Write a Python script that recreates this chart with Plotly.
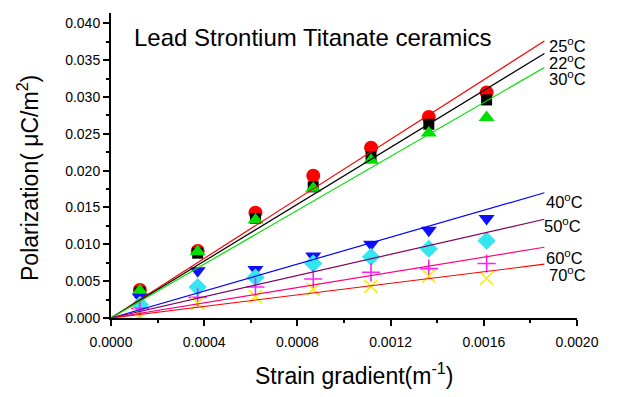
import plotly.graph_objects as go

# Strain gradient at which polarization was measured (m^-1)
strain = [0.000124, 0.000372, 0.000620, 0.000868, 0.001116, 0.001364, 0.001612]

temps = ["25", "22", "30", "40", "50", "60", "70"]

# Measured polarization (uC/m^2) per temperature
pol_25 = [0.0038, 0.0091, 0.0143, 0.0193, 0.0231, 0.0273, 0.0306]
pol_22 = [0.0035, 0.0088, 0.0135, 0.0178, 0.0219, 0.0263, 0.0296]
pol_30 = [0.0037, 0.0090, 0.0133, 0.0176, 0.0214, 0.0251, 0.0272]
pol_40 = [0.0028, 0.0064, 0.0066, 0.0084, 0.0100, 0.0119, 0.0135]
pol_50 = [0.0018, 0.0042, 0.0055, 0.0074, 0.0083, 0.0094, 0.0105]
pol_60 = [0.0013, 0.0028, 0.0042, 0.0053, 0.0062, 0.0067, 0.0074]
pol_70 = [0.0004, 0.0020, 0.0029, 0.0039, 0.0043, 0.0057, 0.0054]

# Linear fits through the origin: end point of each fitted line
fit_x_end = 0.00186
fit_y_end = [0.0376, 0.0359, 0.0340, 0.0170, 0.0134, 0.0096, 0.0073]

# Label placement (y of each temperature label)
label_y = [0.0371, 0.0348, 0.0326, 0.0159, 0.0126, 0.0083, 0.0060]
label_x = [0.001872, 0.001872, 0.001872, 0.00186, 0.00185, 0.00186, 0.001872]

series = [pol_25, pol_22, pol_30, pol_40, pol_50, pol_60, pol_70]
marker_colors = ["#ff0000", "#000000", "#00e000", "#1010ff", "#33e6f0", "#ff20ff", "#f0f000"]
line_colors = ["#ff0000", "#000000", "#00e000", "#0000ff", "#800060", "#ff0080", "#ff0000"]
symbols = ["circle", "square", "triangle-up", "triangle-down", "diamond", "cross-thin", "x-thin"]
sizes = [14, 11, 14, 14, 14, 13, 13]

FONT = "Liberation Sans, Arial"

# plot area in pixels
L, R, T, B = 111, 67, 13, 79
W, H = 644, 397
PW, PH = W - L - R, H - T - B


def px_to_paper(px, py):
    return (px - L) / PW, (H - B - py) / PH


fig = go.Figure()

for i, ys in enumerate(series):
    thin = symbols[i].endswith("-thin")
    fig.add_trace(go.Scatter(
        x=strain, y=ys, mode="markers",
        marker=dict(symbol=symbols[i], size=sizes[i], color=marker_colors[i],
                    line=dict(width=1.6 if thin else 0, color=marker_colors[i])),
        showlegend=False,
    ))

for i, ye in enumerate(fit_y_end):
    fig.add_trace(go.Scatter(
        x=[0, fit_x_end], y=[0, ye], mode="lines",
        line=dict(color=line_colors[i], width=1.2),
        showlegend=False,
    ))

for i, t in enumerate(temps):
    fig.add_annotation(
        x=label_x[i], y=label_y[i], xref="x", yref="y",
        text=f"{t}<sup>o</sup>C", showarrow=False, xanchor="left", yanchor="middle",
        font=dict(size=16.5, color="black", family=FONT),
    )

# chart title inside the plot area
tx, ty = px_to_paper(132, 38)
fig.add_annotation(
    x=tx, y=ty, xref="paper", yref="paper",
    text="Lead Strontium Titanate ceramics", showarrow=False,
    xanchor="left", yanchor="middle",
    font=dict(size=24, color="black", family=FONT),
)

# axis titles as annotations
ax, ay = px_to_paper(28, 178)
fig.add_annotation(
    x=ax, y=ay, xref="paper", yref="paper",
    text="Polarization( \u03bcC/m<sup>2</sup>)", showarrow=False, textangle=-90,
    xanchor="center", yanchor="middle",
    font=dict(size=23, color="black", family=FONT),
)
bx, by = px_to_paper(354, 374)
fig.add_annotation(
    x=bx, y=by, xref="paper", yref="paper",
    text="Strain gradient(m<sup>-1</sup>)", showarrow=False,
    xanchor="center", yanchor="middle",
    font=dict(size=23, color="black", family=FONT),
)

fig.update_layout(
    width=W, height=H,
    margin=dict(l=L, r=R, t=T, b=B),
    paper_bgcolor="white", plot_bgcolor="white",
    font=dict(family=FONT, color="black"),
    xaxis=dict(
        range=[0, 0.002], dtick=0.0004, tick0=0, tickformat=".4f",
        showgrid=False, zeroline=False, showline=True, linecolor="black", linewidth=2,
        ticks="outside", ticklen=6, tickwidth=1.5, tickcolor="black",
        minor=dict(dtick=0.0002, ticks="outside", ticklen=3, tickwidth=1.5, tickcolor="black"),
        tickfont=dict(size=14), ticklabelstandoff=4,
    ),
    yaxis=dict(
        range=[0, 0.0414], dtick=0.005, tick0=0, tickformat=".3f",
        showgrid=False, zeroline=False, showline=True, linecolor="black", linewidth=2,
        ticks="outside", ticklen=6, tickwidth=1.5, tickcolor="black",
        minor=dict(dtick=0.0025, ticks="outside", ticklen=3, tickwidth=1.5, tickcolor="black"),
        tickfont=dict(size=14),
    ),
)

fig.write_html("out.html")
